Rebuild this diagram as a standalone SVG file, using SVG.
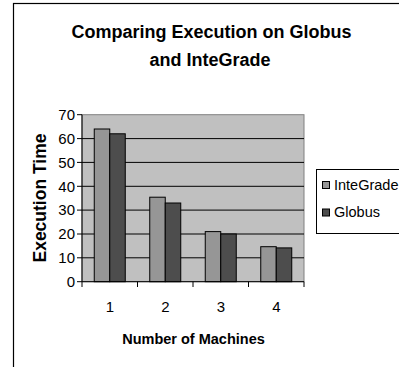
<svg xmlns="http://www.w3.org/2000/svg" width="399" height="367" viewBox="0 0 399 367">
<style>
text{font-family:"Liberation Sans",Arial,sans-serif;fill:#000}
.t{font-size:18px;font-weight:bold;text-anchor:middle}
.ax{font-size:14.5px;font-weight:bold;text-anchor:middle}
.yl{font-size:15px;text-anchor:end}
.xl{font-size:15px;text-anchor:middle}
.lg{font-size:14.5px}
.grid{stroke:#000;stroke-width:1}
.bi{fill:#969696;stroke:#000;stroke-width:1}
.bg{fill:#4d4d4d;stroke:#000;stroke-width:1}
</style>
<rect width="399" height="367" fill="#fff"/>
<rect id="frame" x="13.5" y="3.5" width="420" height="420" fill="#fff" stroke="#000" stroke-width="1.2"/>
<g id="title">
<text class="t" x="211.5" y="38">Comparing Execution on Globus</text>
<text class="t" x="210" y="65.5">and InteGrade</text>
</g>
<g id="plot">
<rect x="82" y="114.7" width="222" height="167" fill="#c0c0c0" stroke="#808080" stroke-width="1"/>
<g class="grid">
<line x1="82" y1="138.6" x2="304" y2="138.6"/>
<line x1="82" y1="162.4" x2="304" y2="162.4"/>
<line x1="82" y1="186.3" x2="304" y2="186.3"/>
<line x1="82" y1="210.1" x2="304" y2="210.1"/>
<line x1="82" y1="234" x2="304" y2="234"/>
<line x1="82" y1="257.8" x2="304" y2="257.8"/>
</g>
</g>
<g id="bars">
<rect class="bi" x="94.25" y="129" width="15.5" height="152.7"/>
<rect class="bg" x="109.75" y="133.8" width="15.5" height="147.9"/>
<rect class="bi" x="149.75" y="197.2" width="15.5" height="84.5"/>
<rect class="bg" x="165.25" y="203" width="15.5" height="78.7"/>
<rect class="bi" x="205.25" y="231.6" width="15.5" height="50.1"/>
<rect class="bg" x="220.75" y="234" width="15.5" height="47.7"/>
<rect class="bi" x="260.75" y="246.7" width="15.5" height="35"/>
<rect class="bg" x="276.25" y="247.9" width="15.5" height="33.8"/>
</g>
<g id="axes" stroke="#000" stroke-width="1">
<line x1="82" y1="114.7" x2="82" y2="281.7"/>
<line x1="82" y1="281.7" x2="304" y2="281.7"/>
<line x1="77" y1="114.7" x2="82" y2="114.7"/>
<line x1="77" y1="138.6" x2="82" y2="138.6"/>
<line x1="77" y1="162.4" x2="82" y2="162.4"/>
<line x1="77" y1="186.3" x2="82" y2="186.3"/>
<line x1="77" y1="210.1" x2="82" y2="210.1"/>
<line x1="77" y1="234" x2="82" y2="234"/>
<line x1="77" y1="257.8" x2="82" y2="257.8"/>
<line x1="77" y1="281.7" x2="82" y2="281.7"/>
<line x1="82" y1="281.7" x2="82" y2="287"/>
<line x1="137.5" y1="281.7" x2="137.5" y2="287"/>
<line x1="193" y1="281.7" x2="193" y2="287"/>
<line x1="248.5" y1="281.7" x2="248.5" y2="287"/>
<line x1="304" y1="281.7" x2="304" y2="287"/>
</g>
<g id="ylabels">
<text class="yl" x="75" y="120">70</text>
<text class="yl" x="75" y="143.9">60</text>
<text class="yl" x="75" y="167.7">50</text>
<text class="yl" x="75" y="191.6">40</text>
<text class="yl" x="75" y="215.4">30</text>
<text class="yl" x="75" y="239.3">20</text>
<text class="yl" x="75" y="263.1">10</text>
<text class="yl" x="75" y="287">0</text>
</g>
<g id="xlabels">
<text class="xl" x="110" y="311.5">1</text>
<text class="xl" x="165.5" y="311.5">2</text>
<text class="xl" x="221" y="311.5">3</text>
<text class="xl" x="276.5" y="311.5">4</text>
</g>
<text class="ax" x="193.5" y="344">Number of Machines</text>
<text class="ax" style="font-size:17.5px" transform="translate(46 198) rotate(-90)" x="0" y="0">Execution Time</text>
<g id="legend">
<rect x="316.5" y="169.5" width="100" height="64" fill="#fff" stroke="#000" stroke-width="1"/>
<rect class="bi" x="322.5" y="181.5" width="7" height="7"/>
<text class="lg" x="334" y="189.5">InteGrade</text>
<rect class="bg" x="322.5" y="209" width="7" height="7"/>
<text class="lg" x="334" y="216.8">Globus</text>
</g>
</svg>
